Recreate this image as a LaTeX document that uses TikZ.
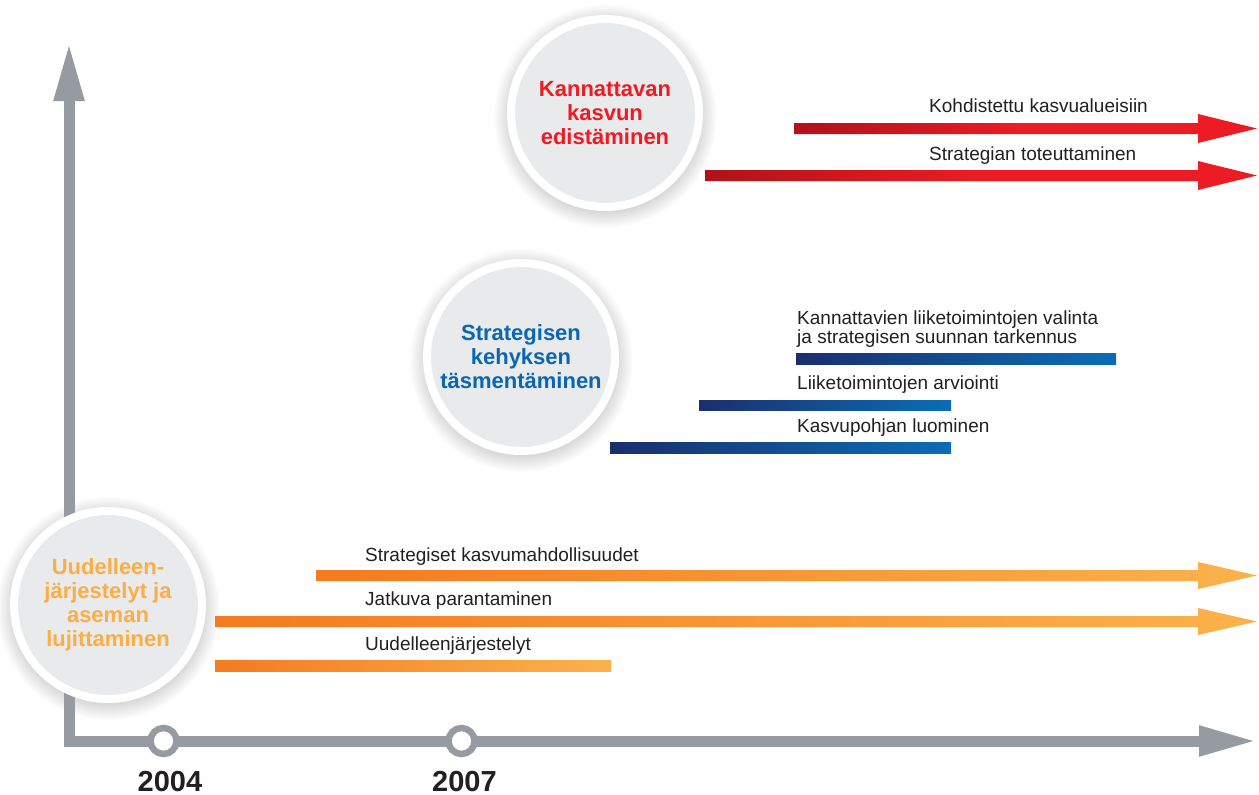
\documentclass[tikz,border=0pt]{standalone}
\usepackage{fontspec}
\setmainfont{Liberation Sans}
\usetikzlibrary{arrows.meta, fadings, backgrounds, calc}
\definecolor{axisgray}{HTML}{959BA1}
\definecolor{circgray}{HTML}{E9EAEC}
\definecolor{labelgray}{HTML}{231F20}
\definecolor{redD}{HTML}{B0121B}
\definecolor{redB}{HTML}{ED1C24}
\definecolor{blueD}{HTML}{1B2F6D}
\definecolor{blueB}{HTML}{0B6DB6}
\definecolor{blueT}{HTML}{0A66B2}
\definecolor{orangeD}{HTML}{F47B20}
\definecolor{orangeB}{HTML}{FBB24C}
\definecolor{orangeT}{HTML}{FBAE45}

\begin{document}
\begin{tikzpicture}[x=1pt, y=-1pt,
  phase/.style={circle, fill=circgray, draw=white, line width=8pt, minimum size=188pt, inner sep=0pt, align=center,
    font=\fontsize{22}{24}\selectfont\bfseries},
  halo/.style={fill=black, opacity=.2, path fading=circle with fuzzy edge 20 percent},
  yearmark/.style={circle, draw=axisgray, fill=white, line width=6.5pt, minimum size=26pt, inner sep=0pt},
  year/.style={anchor=base, inner sep=0pt, text=labelgray, font=\fontsize{29}{29}\selectfont\bfseries},
  task/.style={anchor=base west, inner sep=0pt, align=left, text=labelgray, font=\fontsize{19}{17}\selectfont},
  redbar/.style={left color=redD, right color=redB, middle color=redB},
  bluebar/.style={left color=blueD, right color=blueB},
  orangebar/.style={left color=orangeD, right color=orangeB}]
\useasboundingbox (0,0) rectangle (1259,795);

\coordinate (ytip) at (69,42);
\coordinate (xtip) at (1257,741);
\draw [axisgray, line width=11pt, line join=miter, {Triangle[length=59pt, width=28pt]}-{Triangle[length=58pt, width=28pt]}] (ytip) |- (xtip);
\node[yearmark] (y1) at (163.5,741) {};
\node[yearmark] (y2) at (461.5,741) {};
\node[year] at (170,791) {2004};
\node[year] at (464.5,791) {2007};

\node[phase, text=redB] (c1) at (605,113) {Kannattavan\\kasvun\\edistäminen};
\node[phase, text=blueT] (c2) at (521,357) {Strategisen\\kehyksen\\täsmentäminen};
\node[phase, text=orangeT] (c3) at (108,605) {Uudelleen-\\järjestelyt ja\\aseman\\lujittaminen};
\begin{scope}[on background layer]
\foreach \c in {c1,c2,c3}
  \fill[halo] ($(\c.center)+(0,3)$) circle (112);
\end{scope}

\coordinate (r1s) at (794,128.5);  \coordinate (r1e) at (1257,128.5);
\coordinate (r2s) at (705,175.5);  \coordinate (r2e) at (1257,175.5);
\coordinate (b1s) at (796,359);    \coordinate (b1e) at (1116,359);
\coordinate (b2s) at (699,405.5);  \coordinate (b2e) at (951,405.5);
\coordinate (b3s) at (610,448);    \coordinate (b3e) at (951,448);
\coordinate (o1s) at (316,575.5);  \coordinate (o1e) at (1257,575.5);
\coordinate (o2s) at (215,621.5);  \coordinate (o2e) at (1257,621.5);
\coordinate (o3s) at (215,665.5);  \coordinate (o3e) at (611,665.5);

\shade[redbar] ($(r1s)+(0,-5.5)$) -- ($(r1e)+(-59,-5.5)$) -- ++(0,-9) -- (r1e) -- ($(r1e)+(-59,14.5)$) -- ++(0,-9) -- ($(r1s)+(0,5.5)$) -- cycle;
\shade[redbar] ($(r2s)+(0,-5.5)$) -- ($(r2e)+(-59,-5.5)$) -- ++(0,-9) -- (r2e) -- ($(r2e)+(-59,14.5)$) -- ++(0,-9) -- ($(r2s)+(0,5.5)$) -- cycle;
\shade[bluebar] ($(b1s)+(0,-5.25)$) rectangle ($(b1e)+(0,5.25)$);
\shade[bluebar] ($(b2s)+(0,-5.25)$) rectangle ($(b2e)+(0,5.25)$);
\shade[bluebar] ($(b3s)+(0,-5.25)$) rectangle ($(b3e)+(0,5.25)$);
\shade[orangebar] ($(o1s)+(0,-5.5)$) -- ($(o1e)+(-59,-5.5)$) -- ++(0,-8) -- (o1e) -- ($(o1e)+(-59,13.5)$) -- ++(0,-8) -- ($(o1s)+(0,5.5)$) -- cycle;
\shade[orangebar] ($(o2s)+(0,-5.5)$) -- ($(o2e)+(-59,-5.5)$) -- ++(0,-8) -- (o2e) -- ($(o2e)+(-59,13.5)$) -- ++(0,-8) -- ($(o2s)+(0,5.5)$) -- cycle;
\shade[orangebar] ($(o3s)+(0,-5.5)$) rectangle ($(o3e)+(0,5.5)$);

\node[task] (t1) at (929,112) {Kohdistettu kasvualueisiin};
\node[task] (t2) at (929,160) {Strategian toteuttaminen};
\node[task] (t3) at (797,343) {Kannattavien liiketoimintojen valinta\\ja strategisen suunnan tarkennus};
\node[task] (t4) at (797,389) {Liiketoimintojen arviointi};
\node[task] (t5) at (797,432) {Kasvupohjan luominen};
\node[task] (t6) at (365,561) {Strategiset kasvumahdollisuudet};
\node[task] (t7) at (365,605) {Jatkuva parantaminen};
\node[task] (t8) at (365,650) {Uudelleenjärjestelyt};
\end{tikzpicture}
\end{document}
